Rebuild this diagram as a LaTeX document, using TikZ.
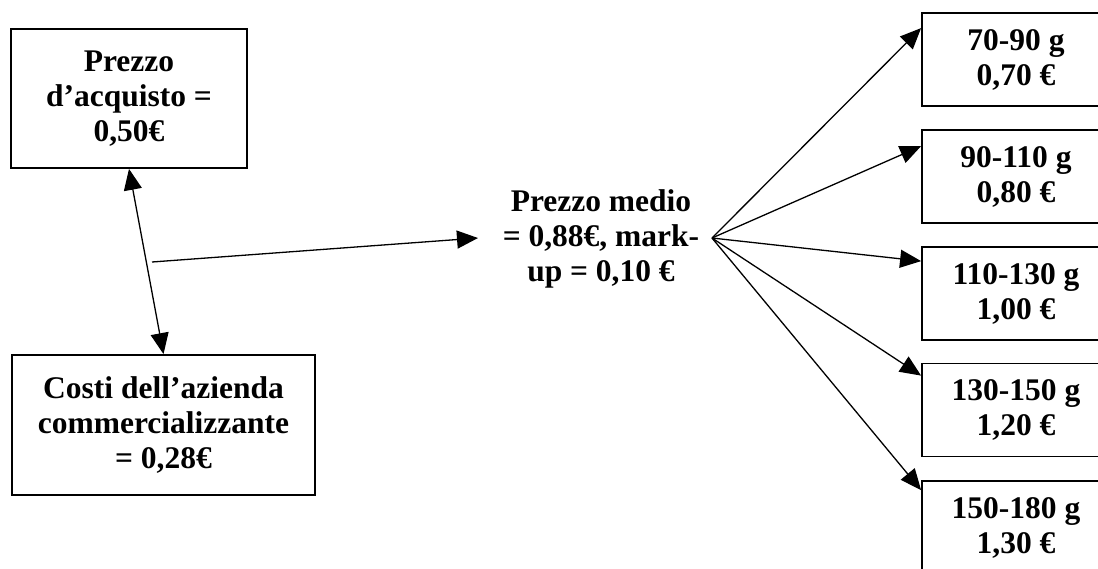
\documentclass[tikz,border=0pt]{standalone}
\usepackage{fontspec}
\setmainfont{Liberation Serif}
\usetikzlibrary{arrows.meta,calc}
\begin{document}
\begin{tikzpicture}[x=1pt,y=-1pt,
  txt/.style={align=center,inner sep=0pt,font=\bfseries\fontsize{31.5}{35}\selectfont},
  box/.style={txt,draw,line width=1.8pt},
  rbox/.style={box,minimum width=188pt,minimum height=93pt},
  conn/.style={line width=1.3pt,-{Triangle[length=21pt,width=18pt]}},
  conntwo/.style={line width=1.3pt,{Triangle[length=21pt,width=18pt]}-{Triangle[length=21pt,width=18pt]}}]
\path[use as bounding box, clip] (0,0) rectangle (1098,568);
\fill[white] (0,0) rectangle (1098,568);
\node[box,minimum width=236pt,minimum height=139pt] (acq) at (129,98.5) {Prezzo\\d’acquisto =\\0,50€};
\node[box,minimum width=303pt,minimum height=140pt] (costi) at (163.5,425) {Costi dell’azienda\\commercializzante\\= 0,28€};
\node[txt] (medio) at (601,239) {Prezzo medio\\= 0,88€, mark-\\up = 0,10 €};
\node[rbox] (r1) at (1016,59.5) {70-90 g\\0,70 €};
\node[rbox] (r2) at (1016,176.5) {90-110 g\\0,80 €};
\node[rbox] (r3) at (1016,293.5) {110-130 g\\1,00 €};
\node[rbox] (r4) at (1016,410) {130-150 g\\1,20 €};
\node[rbox] (r5) at (1016,527.5) {150-180 g\\1,30 €};
\coordinate (split) at (152,262);
\coordinate (medin) at (478,238);
\coordinate (fan) at (712,238);
\draw[conntwo] (acq.south) -- (costi.north);
\draw[conn] (split) -- (medin);
\draw[conn] (fan) -- ($(r1.north west)+(0,16)$);
\draw[conn] (fan) -- ($(r2.north west)+(0,17)$);
\draw[conn] (fan) -- ($(r3.north west)+(0,15)$);
\draw[conn] (fan) -- ($(r4.north west)+(0,13)$);
\draw[conn] (fan) -- ($(r5.north west)+(0,10)$);
\end{tikzpicture}
\end{document}
